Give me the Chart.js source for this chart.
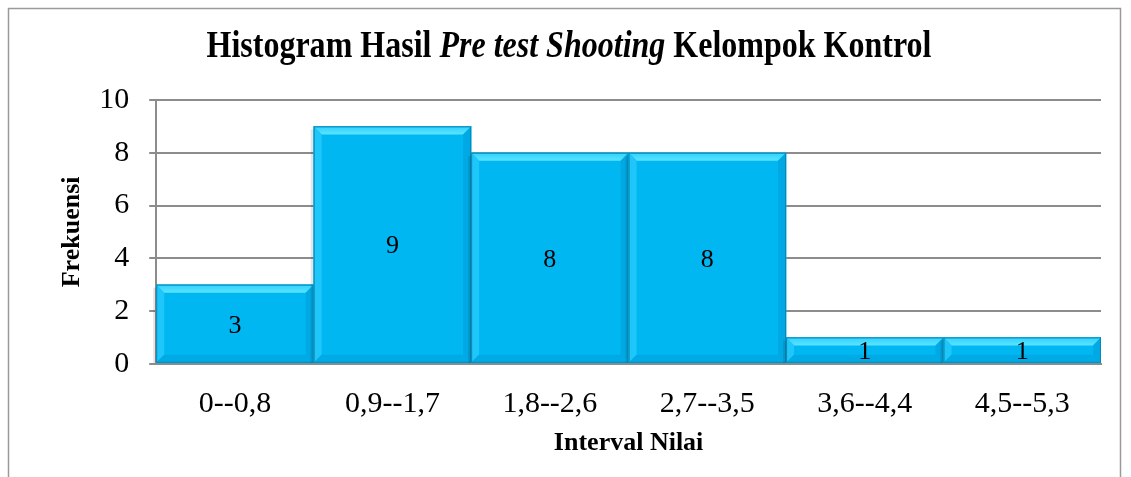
<!DOCTYPE html>
<html><head><meta charset="utf-8">
<script src="https://cdn.jsdelivr.net/npm/chart.js@4/dist/chart.umd.min.js"></script>
<style>html,body{margin:0;padding:0;background:#fff}#wrap{width:1131px;height:477px;position:relative}</style>
</head><body><div id="wrap"><canvas id="c" width="1131" height="477"></canvas></div>
<script>
const categories = ["0--0,8","0,9--1,7","1,8--2,6","2,7--3,5","3,6--4,4","4,5--5,3"];
const frequencies = [3, 9, 8, 8, 1, 1];
const yTicks = [0, 2, 4, 6, 8, 10];
const titleParts = [["Histogram Hasil ", "bold"], ["Pre test Shooting", "italic bold"], [" Kelompok Kontrol", "bold"]];
const xTitle = "Interval Nilai";
const yTitle = "Frekuensi";
const SERIF = "'Liberation Serif','Times New Roman',serif";

const decor = {
  id: 'decor',
  beforeDraw(chart) {
    const ctx = chart.ctx;
    ctx.save();
    ctx.fillStyle = '#fff';
    ctx.fillRect(0, 0, chart.width, chart.height);
    ctx.strokeStyle = '#9a9a9a';
    ctx.lineWidth = 1.5;
    ctx.strokeRect(8.5, 8.5, 1112, 520);
    ctx.restore();
  },
  afterDatasetsDraw(chart) {
    const ctx = chart.ctx;
    const meta = chart.getDatasetMeta(0);
    ctx.save();
    meta.data.forEach((bar, i) => {
      const l = bar.x - bar.width / 2, r = bar.x + bar.width / 2, t = bar.y, b = bar.base;
      const h = b - t;
      const bv = Math.min(8, h / 2.5);
      ctx.fillStyle = 'rgba(0,0,0,0.10)';
      ctx.fillRect(l - 3, t + 3, 3, h - 3);
      const g = ctx.createLinearGradient(0, t, 0, t + bv);
      g.addColorStop(0, '#30d2ff'); g.addColorStop(1, '#5ae3ff');
      ctx.fillStyle = g;
      ctx.beginPath(); ctx.moveTo(l, t); ctx.lineTo(r, t); ctx.lineTo(r - bv, t + bv); ctx.lineTo(l + bv, t + bv); ctx.closePath(); ctx.fill();
      ctx.fillStyle = '#1ec6fa';
      ctx.beginPath(); ctx.moveTo(l, t); ctx.lineTo(l + bv, t + bv); ctx.lineTo(l + bv, b - bv); ctx.lineTo(l, b); ctx.closePath(); ctx.fill();
      ctx.fillStyle = '#00a9e3';
      ctx.beginPath(); ctx.moveTo(r, t); ctx.lineTo(r, b); ctx.lineTo(r - bv, b - bv); ctx.lineTo(r - bv, t + bv); ctx.closePath(); ctx.fill();
      ctx.fillStyle = '#00aae4';
      ctx.beginPath(); ctx.moveTo(l, b); ctx.lineTo(r, b); ctx.lineTo(r - bv, b - bv); ctx.lineTo(l + bv, b - bv); ctx.closePath(); ctx.fill();
      ctx.strokeStyle = '#0a86b4';
      ctx.lineWidth = 1;
      ctx.strokeRect(l + 0.5, t + 0.5, bar.width - 1, h - 1);
      ctx.fillStyle = '#000';
      ctx.font = "26px " + SERIF;
      ctx.textAlign = 'center';
      ctx.textBaseline = 'middle';
      ctx.fillText(String(frequencies[i]), bar.x, (t + b) / 2 + 2);
    });
    ctx.restore();
  },
  afterDraw(chart) {
    const ctx = chart.ctx;
    ctx.save();
    ctx.fillStyle = '#000';
    ctx.textBaseline = 'middle';
    const size = 32;
    let total = 0;
    titleParts.forEach(p => { ctx.font = p[1] + " " + size + "px " + SERIF; total += ctx.measureText(p[0]).width; });
    const k = 725 / total;
    ctx.translate(569, 47);
    ctx.scale(k, 1.2);
    let x = -total / 2;
    titleParts.forEach(p => { ctx.font = p[1] + " " + size + "px " + SERIF; ctx.textAlign = 'left'; ctx.fillText(p[0], x, 0); x += ctx.measureText(p[0]).width; });
    ctx.restore();
  }
};

new Chart(document.getElementById('c'), {
  type: 'bar',
  data: { labels: categories, datasets: [{ data: frequencies, backgroundColor: '#00b7f2', borderWidth: 0, barPercentage: 1, categoryPercentage: 1 }] },
  options: {
    responsive: false, animation: false,
    layout: { padding: { left: 58, right: 30, top: 100, bottom: 17 } },
    plugins: { legend: { display: false }, tooltip: { enabled: false }, title: { display: false } },
    scales: {
      x: {
        grid: { display: false, drawTicks: false },
        border: { color: '#8c8c8c', width: 2 },
        ticks: { color: '#000', font: { family: SERIF, size: 30 }, padding: 22 },
        title: { display: true, text: xTitle, color: '#000', font: { family: SERIF, size: 26, weight: 'bold' }, padding: { top: -16, bottom: 1 } }
      },
      y: {
        min: 0, max: 10,
        afterBuildTicks(scale) { scale.ticks = yTicks.map(v => ({ value: v })); },
        grid: { color: '#8c8c8c', lineWidth: 2, tickLength: 7 },
        border: { color: '#8c8c8c', width: 2 },
        ticks: { color: '#000', font: { family: SERIF, size: 30 }, padding: 20 },
        title: { display: true, text: yTitle, color: '#000', font: { family: SERIF, size: 26, weight: 'bold' }, padding: { top: -1, bottom: -9 } }
      }
    }
  },
  plugins: [decor]
});
</script></body></html>
